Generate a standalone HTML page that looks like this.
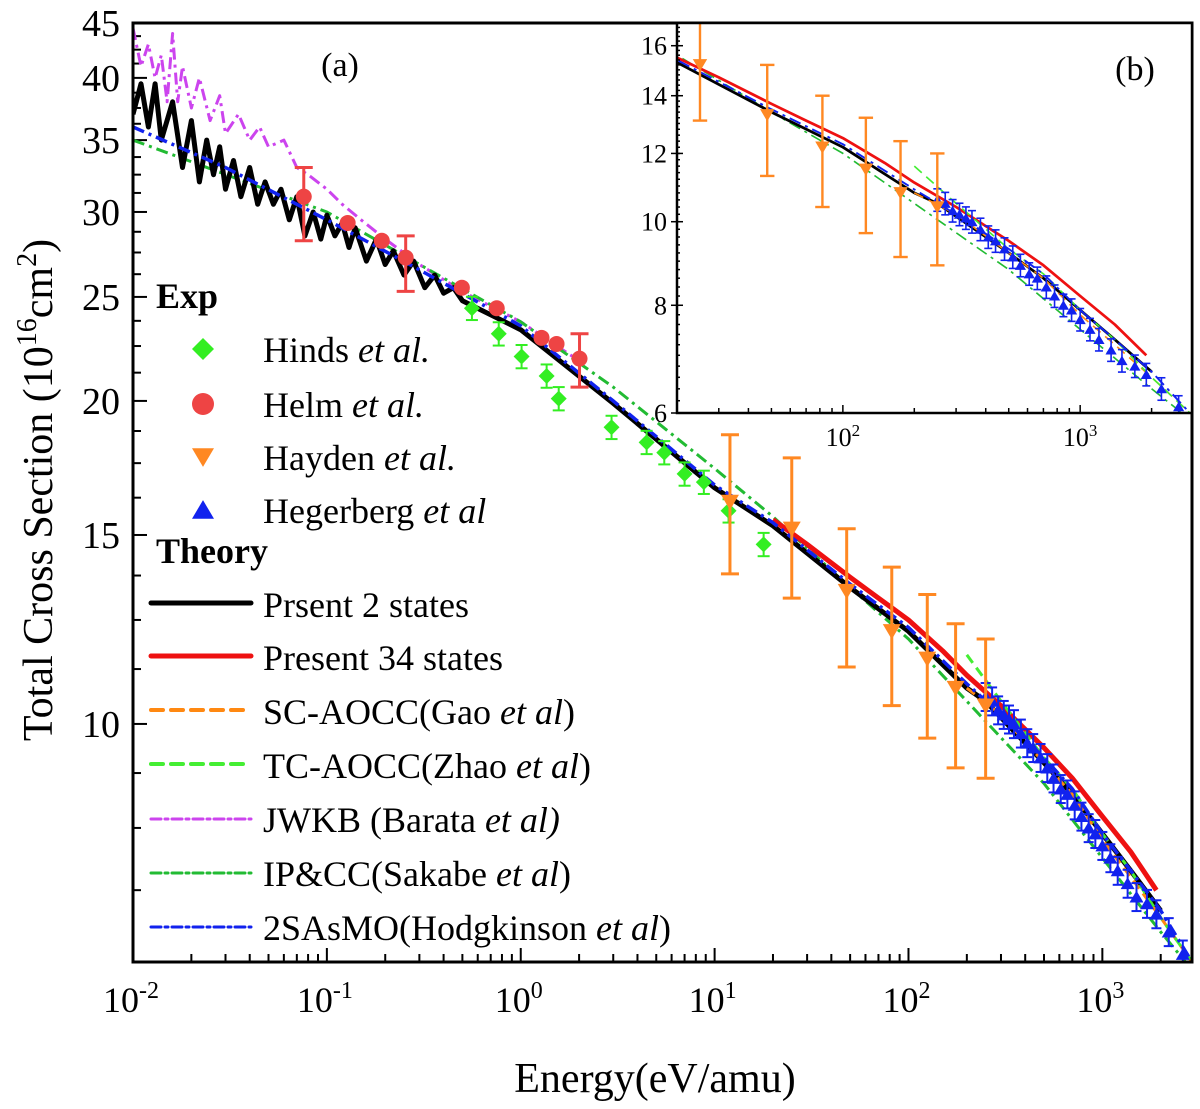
<!DOCTYPE html>
<html><head><meta charset="utf-8"><style>
html,body{margin:0;padding:0;background:#fff;}
svg{display:block;}
svg text{font-family:"Times New Roman",Times,"Liberation Serif","DejaVu Serif",serif;}
</style></head><body>
<svg id="chart" width="1200" height="1109" viewBox="0 0 1200 1109" xmlns="http://www.w3.org/2000/svg">
</svg>
<script>
// ---------- data ----------
const commonE = [0.01,0.03,0.1,0.3,1,3,10,20,50,100,200,300,500,700,1000,1400,2000,2900];
const hodgkinsonS = [36,33,29.5,26.5,23.5,20.0,16.7,15.4,13.5,12.3,10.9,10.2,9.3,8.7,7.9,7.3,6.7,6.0];
const blackE = [0.010,0.011,0.012,0.013,0.014,0.016,0.018,0.02,0.022,0.024,0.026,0.028,0.03,0.033,0.036,0.04,0.044,0.048,0.053,0.058,0.064,0.07,0.077,0.085,0.093,0.1,0.11,0.12,0.13,0.14,0.16,0.18,0.2,0.22,0.25,0.28,0.32,0.36,0.4,0.45,0.5,1,3,10,20,50,100,200,250,500,700,1000,1400,2000];
const blackS = [37,39.5,36,39.5,35,38,33,36.5,32,35,32.5,34.5,31.5,33.5,31,33,30.5,32,30.5,31.5,29.5,31,28.5,30,28.3,29.8,28.5,29.3,27.8,29,27,28.3,26.8,27.6,26.2,27,25.5,26.2,25.2,25.5,24.8,23.3,19.9,16.6,15.3,13.4,12.2,10.8,10.5,9.2,8.6,7.9,7.3,6.7];
const redE = [20,30,50,70,100,150,200,300,500,700,1000,1400,1900];
const redS = [15.5,14.7,13.7,13.1,12.5,11.7,11.1,10.4,9.5,8.9,8.2,7.6,7.0];
const jwkbE = [0.01,0.011,0.012,0.013,0.014,0.015,0.016,0.017,0.018,0.02,0.022,0.025,0.028,0.03,0.035,0.04,0.045,0.05,0.06,0.07,0.08,0.1,0.12,0.15,0.2,0.3,0.5,0.7,1,2];
const jwkbS = [44.5,41,43,40,42,38,44,38,41,37.5,40,36.5,38.5,35.5,37,35,36,34.5,35,33,32.5,31.5,30.5,29.5,28.3,26.8,25.3,24.5,23.7,21.8];
const ipccE = [0.01,0.1,1,3,10,20,50,100,200,500,1000,2000,2900];
const ipccS = [35,30,23.7,20.6,17.3,15.6,13.4,12.0,10.5,8.8,7.5,6.4,5.9];
const tcE = [200,300,500,700,1000,1400,2000,2900];
const tcS = [11.6,10.5,9.3,8.7,7.9,7.3,6.6,6.0];
const scE = [200,300,500,700,1000,1400,2000,2900];
const scS = [10.8,10.2,9.2,8.6,7.8,7.2,6.6,6.0];
const hindsE = [0.56,0.77,1.01,1.36,1.57,2.94,4.46,5.5,7.0,8.8,11.8,17.9];
const hindsS = [24.4,23.1,22.0,21.1,20.1,18.9,18.3,17.9,17.1,16.8,15.8,14.7];
const helmE = [0.076,0.128,0.192,0.255,0.497,0.752,1.28,1.53,2.01];
const helmS = [31.0,29.3,28.2,27.2,25.5,24.4,22.9,22.6,21.9];
const helmErrE = [0.076,0.255,2.01];
const helmErrLo = [28.2,25.3,20.6];
const helmErrHi = [33.0,28.5,23.1];
const haydenE = [12,25,48,82,125,175,250];
const haydenS = [16.1,15.2,13.3,12.2,11.5,10.8,10.4];
const haydenLo = [13.8,13.1,11.3,10.4,9.7,9.1,8.9];
const haydenHi = [18.6,17.7,15.2,14.0,13.2,12.4,12.0];
const hegE = [250,270,290,310,330,350,380,410,440,480,520,560,610,660,720,780,850,920,1000,1100,1200,1350,1500,1700,1900,2200,2600];
const hegS = [10.6,10.5,10.3,10.2,10.1,10.0,9.8,9.6,9.5,9.3,9.1,8.9,8.7,8.6,8.4,8.2,8.0,7.9,7.7,7.5,7.3,7.1,6.9,6.8,6.65,6.4,6.1];
const mainYTicks = [10,15,20,25,30,35,40,45];
const insetYTicks = [6,8,10,12,14,16];

// ---------- helpers ----------
const NS = "http://www.w3.org/2000/svg";
const svg = document.getElementById('chart');
function mk(tag, attrs, parent){ const e=document.createElementNS(NS,tag); for(const k in attrs) e.setAttribute(k,attrs[k]); (parent||svg).appendChild(e); return e; }
function makeAxes(x0,x1,xmin,xmax,y0,y1,ymin,ymax){
  const lx0=Math.log10(xmin), lx1=Math.log10(xmax), ly0=Math.log10(ymin), ly1=Math.log10(ymax);
  return {
    x:v=>x0+(Math.log10(v)-lx0)/(lx1-lx0)*(x1-x0),
    y:v=>y1-(Math.log10(v)-ly0)/(ly1-ly0)*(y1-y0)
  };
}
function linePath(ax,E,S){ return E.map((e,i)=>(i?'L':'M')+ax.x(e).toFixed(1)+','+ax.y(S[i]).toFixed(1)).join(''); }

// ---------- main plot ----------
const M = {l:133,r:1192,t:23,b:962};
const mainAx = makeAxes(M.l,M.r,0.01,2900,M.t,M.b,6,45);
const gMain = mk('g',{});


const clip = mk('clipPath',{id:'mclip'}); mk('rect',{x:M.l,y:M.t,width:M.r-M.l,height:M.b-M.t},clip);

const gTicks = mk('g',{stroke:'#000','stroke-width':2},gMain);
for(let d=-2; d<=3; d++){
  for(let m=1;m<=9;m++){
    const v=m*Math.pow(10,d); if(v>2900) break;
    const x=mainAx.x(v); const len=m===1?14:8;
    mk('line',{x1:x,y1:M.b,x2:x,y2:M.b-len},gTicks);
  }
  const lab = mk('text',{x:mainAx.x(Math.pow(10,d))-2,y:1012,'font-size':36,'text-anchor':'middle',fill:'#000'},gMain);
  
  
  lab.innerHTML = '10<tspan dy="-14" font-size="24">'+d+'</tspan>';
}
for(let v=6; v<=45.01; v+= (v<10?1:1.25)){
  const y=mainAx.y(v); const major = mainYTicks.some(t=>Math.abs(t-v)<0.01);
  mk('line',{x1:M.l,y1:y,x2:M.l+(major?14:8),y2:y},gTicks);
}
mainYTicks.forEach(t=>{
  const tx = mk('text',{x:120,y:mainAx.y(t)+13,'font-size':38,'text-anchor':'end',fill:'#000'},gMain);
  
  
  tx.textContent=t;
});

const gS = mk('g',{'clip-path':'url(#mclip)',fill:'none'},gMain);
function series(parent,ax,E,S,stroke,w,dash,name){
  const p=mk('path',{d:linePath(ax,E,S),stroke:stroke,'stroke-width':w,fill:'none','stroke-linejoin':'round'},parent);
  if(dash) p.setAttribute('stroke-dasharray',dash);
  
  
  return p;
}
function drawSeries(parent,ax,scale){
  series(parent,ax,jwkbE,jwkbS,'#cc44ee',3*scale,'12 5 3 5','jwkb-line');
  series(parent,ax,ipccE,ipccS,'#22bb33',3*scale,'12 5 3 5','ipcc-line');
  series(parent,ax,blackE,blackS,'#000',5*scale,null,'present-2-states-line');
  series(parent,ax,redE,redS,'#ee1111',5*scale,null,'present-34-states-line');
  series(parent,ax,scE,scS,'#ff8811',3*scale,'10 6','sc-aocc-line');
  series(parent,ax,tcE,tcS,'#44ee33',3*scale,'10 6','tc-aocc-line');
  series(parent,ax,commonE,hodgkinsonS,'#1122ee',3.5*scale,'12 5 3 5','2sasmo-line');
}
function errBar(parent,ax,e,lo,hi,color,w,cap,name){
  const x=ax.x(e), y1=ax.y(lo), y2=ax.y(hi);
  const g=mk('g',{stroke:color,'stroke-width':w},parent);
  
  
  mk('line',{x1:x,y1:y1,x2:x,y2:y2},g);
  mk('line',{x1:x-cap,y1:y1,x2:x+cap,y2:y1},g);
  mk('line',{x1:x-cap,y1:y2,x2:x+cap,y2:y2},g);
}
function marker(parent,kind,x,y,s,color){
  let el;
  if(kind==='diamond') el=mk('polygon',{points:`${x},${y-s} ${x+s},${y} ${x},${y+s} ${x-s},${y}`,fill:color},parent);
  else if(kind==='circle') el=mk('circle',{cx:x,cy:y,r:s,fill:color},parent);
  else if(kind==='down') el=mk('polygon',{points:`${x-s},${y-s*0.8} ${x+s},${y-s*0.8} ${x},${y+s*0.9}`,fill:color},parent);
  else el=mk('polygon',{points:`${x-s},${y+s*0.8} ${x+s},${y+s*0.8} ${x},${y-s*0.9}`,fill:color},parent);
  return el;
}
function drawExp(parent,ax,scale,showHinds){
  if(showHinds){
    hindsE.forEach((e,i)=>{
      errBar(parent,ax,e,hindsS[i]*0.975,hindsS[i]*1.025,'#33ee22',2,6,'hinds-error-bar');
      const m=marker(parent,'diamond',ax.x(e),ax.y(hindsS[i]),8,'#33ee22');
      
      
    });
    helmErrE.forEach((e,i)=>errBar(parent,ax,e,helmErrLo[i],helmErrHi[i],'#ee4444',3,9,'helm-error-bar'));
    helmE.forEach((e,i)=>{
      const m=marker(parent,'circle',ax.x(e),ax.y(helmS[i]),8,'#ee4444');
      
      
    });
  }
  hegE.forEach((e,i)=>{
    errBar(parent,ax,e,hegS[i]*0.97,hegS[i]*1.03,'#1122ee',2*scale,5*scale,'hegerberg-error-bar');
    const m=marker(parent,'up',ax.x(e),ax.y(hegS[i]),7*scale,'#1122ee');
    
    
  });
  haydenE.forEach((e,i)=>{
    if(!showHinds && e<20) return;
    errBar(parent,ax,e,haydenLo[i],haydenHi[i],'#ff8822',3*scale,9*scale,'hayden-error-bar');
    const m=marker(parent,'down',ax.x(e),ax.y(haydenS[i]),9*scale,'#ff8822');
    
    
  });
}
drawSeries(gS,mainAx,1);
drawExp(gS,mainAx,1,true);
mk('rect',{x:M.l,y:M.t,width:M.r-M.l,height:M.b-M.t,fill:'none',stroke:'#000','stroke-width':3},gMain);

const xt=mk('text',{x:655,y:1092,'font-size':42,'text-anchor':'middle',fill:'#000'});


xt.textContent='Energy(eV/amu)';
const yt=mk('text',{x:0,y:0,'font-size':42,'text-anchor':'middle',fill:'#000',transform:'translate(52,490) rotate(-90)'});


yt.innerHTML='Total Cross Section (10<tspan dy="-16" font-size="28">16</tspan><tspan dy="16">cm</tspan><tspan dy="-16" font-size="28">2</tspan><tspan dy="16">)</tspan>';
const pa=mk('text',{x:340,y:76,'font-size':34,'text-anchor':'middle',fill:'#000'});


pa.textContent='(a)';

// ---------- legend ----------
const gL = mk('g',{});


function head(txt,y){ const t=mk('text',{x:156,y:y,'font-size':36,'font-weight':'bold',fill:'#000'},gL); t.textContent=txt;   }
head('Exp',308); head('Theory',563);
function ltext(y,main,italic,tail){
  const t=mk('text',{x:263,y:y,'font-size':36,fill:'#000'},gL);
  
  
  t.innerHTML=main+' <tspan font-style="italic">'+italic+'</tspan>'+(tail||'');
}
const expRows=[['diamond','#33ee22',362,'Hinds','et al.'],['circle','#ee4444',417,'Helm','et al.'],['down','#ff8822',470,'Hayden','et al.'],['up','#1122ee',523,'Hegerberg','et al']];
expRows.forEach(r=>{ marker(gL,r[0],203,r[2]-13,11,r[1]); ltext(r[2],r[3],r[4]); });
const thRows=[
 ['#000',5,null,603,617,'Prsent 2 states','',''],
 ['#ee1111',5,null,656,670,'Present 34 states','',''],
 ['#ff8811',4,'12 8',710,724,'SC-AOCC(Gao','et al',')'],
 ['#44ee33',4,'12 8',764,778,'TC-AOCC(Zhao','et al',')'],
 ['#cc44ee',3,'10 4 3 4',819,832,'JWKB (Barata','et al)',''],
 ['#22bb33',3,'10 4 3 4',873,886,'IP&amp;CC(Sakabe','et al',')'],
 ['#1122ee',3,'10 4 3 4',927,940,'2SAsMO(Hodgkinson','et al',')']];
thRows.forEach(r=>{
  const l=mk('line',{x1:151,y1:r[3],x2:251,y2:r[3],stroke:r[0],'stroke-width':r[1],'stroke-linecap':'round'},gL);
  if(r[2]) l.setAttribute('stroke-dasharray',r[2]);
  if(r[6]) ltext(r[4],r[5],r[6],r[7]); else { const t=mk('text',{x:263,y:r[4],'font-size':36,fill:'#000'},gL);   t.textContent=r[5]; }
});

// ---------- inset ----------
const I = {l:677,r:1192,t:23,b:413};
const inAx = makeAxes(I.l,I.r,20,2960,I.t,I.b,6,17);
const gI = mk('g',{});


mk('rect',{x:I.l,y:I.t,width:I.r-I.l,height:I.b-I.t,fill:'#fff'},gI);
const clip2 = mk('clipPath',{id:'iclip'}); mk('rect',{x:I.l,y:I.t,width:I.r-I.l,height:I.b-I.t},clip2);
const gIS = mk('g',{'clip-path':'url(#iclip)'},gI);
drawSeries(gIS,inAx,0.55);
drawExp(gIS,inAx,0.8,false);
const gIT = mk('g',{stroke:'#000','stroke-width':1.5},gI);
for(let d=1; d<=3; d++) for(let m=1;m<=9;m++){ const v=m*Math.pow(10,d); if(v<20||v>2960) continue; const x=inAx.x(v); mk('line',{x1:x,y1:I.b,x2:x,y2:I.b-(m===1?8:5)},gIT); }
for(let v=6; v<=17.01; v+=0.2){ const y=inAx.y(v); mk('line',{x1:I.l,y1:y,x2:I.l+3,y2:y},gIT); }
insetYTicks.forEach(t=>{
  const y=inAx.y(t); mk('line',{x1:I.l-6,y1:y,x2:I.l+6,y2:y},gIT);
  const tx=mk('text',{x:I.l-10,y:y+9,'font-size':26,'text-anchor':'end',fill:'#000'},gI);
  
  
  tx.textContent=t;
});
[2,3].forEach(d=>{
  const tx=mk('text',{x:inAx.x(Math.pow(10,d)),y:446,'font-size':26,'text-anchor':'middle',fill:'#000'},gI);
  
  
  tx.innerHTML='10<tspan dy="-10" font-size="17">'+d+'</tspan>';
});
mk('rect',{x:I.l,y:I.t,width:I.r-I.l,height:I.b-I.t,fill:'none',stroke:'#000','stroke-width':2.5},gI);
const pb=mk('text',{x:1135,y:80,'font-size':34,'text-anchor':'middle',fill:'#000'},gI);


pb.textContent='(b)';
</script>
</body></html>
